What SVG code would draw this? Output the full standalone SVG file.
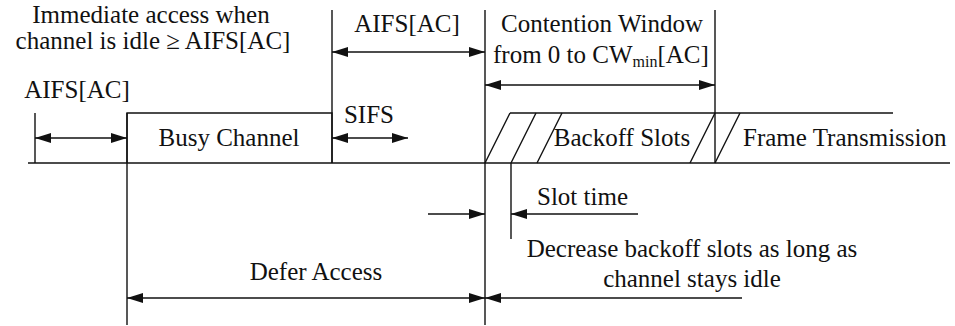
<svg xmlns="http://www.w3.org/2000/svg" width="955" height="326" viewBox="0 0 955 326">
<defs>
<marker id="ah" viewBox="0 0 16 10" refX="16" refY="5" markerWidth="16" markerHeight="10" markerUnits="userSpaceOnUse" orient="auto-start-reverse">
<path d="M0,0 L16,5 L0,10 Z" fill="#111"/>
</marker>
</defs>
<style>
.ln{stroke:#111;stroke-width:1.4;fill:none}
.ar{stroke:#111;stroke-width:1.4;fill:none;marker-end:url(#ah)}
.ar2{stroke:#111;stroke-width:1.4;fill:none;marker-start:url(#ah);marker-end:url(#ah)}
.t{font-family:"Liberation Serif",serif;font-size:25px;fill:#111}
.c{text-anchor:middle}
</style>
<rect width="955" height="326" fill="#fff"/>
<g id="timeline">
<line class="ln" x1="28" y1="163" x2="950" y2="163"/>
<line class="ln" x1="35" y1="113" x2="35" y2="163"/>
<line class="ln" x1="127" y1="113" x2="127" y2="325"/>
<line class="ln" x1="332" y1="10" x2="332" y2="163"/>
<line class="ln" x1="485" y1="10" x2="485" y2="325"/>
<line class="ln" x1="715" y1="10" x2="715" y2="163"/>
<line class="ln" x1="511" y1="163" x2="511" y2="239"/>
</g>
<g id="busy-channel">
<polyline class="ln" points="127,163 127,113 332,113 332,163"/>
<text class="t c" font-family="Liberation Serif" x="229" y="146">Busy Channel</text>
</g>
<g id="backoff-slots">
<line class="ln" x1="510" y1="113" x2="715" y2="113"/>
<line class="ln" x1="485" y1="163" x2="510" y2="113"/>
<line class="ln" x1="511" y1="163" x2="536" y2="113"/>
<line class="ln" x1="537" y1="163" x2="562" y2="113"/>
<line class="ln" x1="690" y1="163" x2="715" y2="113"/>
<text class="t c" font-family="Liberation Serif" x="622" y="146">Backoff Slots</text>
</g>
<g id="frame-transmission">
<line class="ln" x1="715" y1="113" x2="893" y2="113"/>
<line class="ln" x1="715" y1="163" x2="740" y2="113"/>
<text class="t" font-family="Liberation Serif" x="743" y="146">Frame Transmission</text>
</g>
<g id="connectors">
<line class="ar2" x1="35" y1="138" x2="127" y2="138"/>
<line class="ar2" x1="332" y1="138" x2="408" y2="138"/>
<line class="ar2" x1="332" y1="52" x2="485" y2="52"/>
<line class="ar2" x1="485" y1="85" x2="715" y2="85"/>
<line class="ar" x1="428" y1="214" x2="485" y2="214"/>
<line class="ar" x1="638" y1="214" x2="511" y2="214"/>
<line class="ar2" x1="127" y1="298" x2="485" y2="298"/>
<line class="ar" x1="742" y1="298" x2="485" y2="298"/>
</g>
<g id="labels">
<text class="t c" font-family="Liberation Serif" x="151" y="23">Immediate access when</text>
<text class="t c" font-family="Liberation Serif" x="153" y="49">channel is idle ≥ AIFS[AC]</text>
<text class="t c" font-family="Liberation Serif" x="77" y="98">AIFS[AC]</text>
<text class="t c" font-family="Liberation Serif" x="407" y="32">AIFS[AC]</text>
<text class="t c" font-family="Liberation Serif" x="369" y="123">SIFS</text>
<text class="t c" font-family="Liberation Serif" x="602" y="32">Contention Window</text>
<text class="t" font-family="Liberation Serif" x="493" y="63">from 0 to CW<tspan font-size="16" dy="4">min</tspan><tspan dy="-4">[AC]</tspan></text>
<text class="t" font-family="Liberation Serif" x="537" y="205">Slot time</text>
<text class="t c" font-family="Liberation Serif" x="692" y="257">Decrease backoff slots as long as</text>
<text class="t c" font-family="Liberation Serif" x="692" y="287">channel stays idle</text>
<text class="t c" font-family="Liberation Serif" x="316" y="280">Defer Access</text>
</g>
</svg>
